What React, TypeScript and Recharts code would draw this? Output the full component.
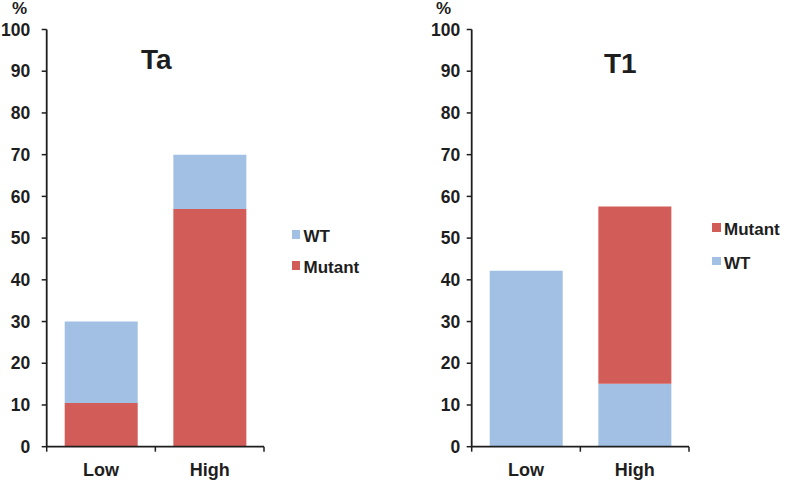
import React from 'react';
import { BarChart, Bar, XAxis, YAxis } from 'recharts';

const categories = ['Low', 'High'];
const yTicks = [0, 10, 20, 30, 40, 50, 60, 70, 80, 90, 100];
const taMutant = [10.5, 57];
const taWT = [19.5, 13];
const t1WT = [42.2, 15.1];
const t1Mutant = [0, 42.5];

const BLUE = '#a1c0e4';
const RED = '#d15c58';
const INK = '#1e1e1e';
const FONT = '"Liberation Sans", Arial, sans-serif';

const taData = categories.map((c, i) => ({ cat: c, Mutant: taMutant[i], WT: taWT[i] }));
const t1Data = categories.map((c, i) => ({ cat: c, WT: t1WT[i], Mutant: t1Mutant[i] }));

const PLOT_W = 217.3;

const makeXTick = (n: number) => (props: any) => {
  const { x, y, payload, index } = props;
  const band = PLOT_W / n;
  return (
    <g>
      <line x1={x - band / 2} x2={x - band / 2} y1={y} y2={y + 5} stroke={INK} strokeWidth={1.5} />
      {index === n - 1 && (
        <line x1={x + band / 2} x2={x + band / 2} y1={y} y2={y + 5} stroke={INK} strokeWidth={1.5} />
      )}
      <text x={x} y={y + 23.5} textAnchor="middle" dominantBaseline="central" fontSize={18} fontWeight="bold" fill={INK} fontFamily={FONT}>
        {payload.value}
      </text>
    </g>
  );
};

const XTick = makeXTick(categories.length);

type PanelProps = {
  left: number;
  width: number;
  yAxisWidth: number;
  rightMargin: number;
  tickMargin: number;
  data: any[];
  order: { key: string; color: string }[];
};

function Panel({ left, width, yAxisWidth, rightMargin, tickMargin, data, order }: PanelProps) {
  return (
    <div style={{ position: 'absolute', left, top: 0 }}>
      <BarChart
        width={width}
        height={483}
        data={data}
        margin={{ top: 29.5, right: rightMargin, bottom: 6, left: 0 }}
      >
        <XAxis
          dataKey="cat"
          height={30.3}
          tickSize={0}
          tickMargin={0}
          tickLine={false}
          axisLine={{ stroke: INK, strokeWidth: 1.8 }}
          tick={<XTick />}
          interval={0}
        />
        <YAxis
          type="number"
          domain={[0, 100]}
          ticks={yTicks}
          interval={0}
          width={yAxisWidth}
          tickSize={5}
          tickMargin={tickMargin}
          axisLine={{ stroke: INK, strokeWidth: 1.8 }}
          tickLine={{ stroke: INK, strokeWidth: 1.5 }}
          tick={{ fontSize: 17.5, fontWeight: 'bold', fill: INK, fontFamily: FONT }}
        />
        {order.map((o) => (
          <Bar key={o.key} dataKey={o.key} stackId="a" fill={o.color} barSize={73} isAnimationActive={false} />
        ))}
      </BarChart>
    </div>
  );
}

const textStyle: React.CSSProperties = {
  position: 'absolute',
  fontFamily: FONT,
  fontWeight: 'bold',
  color: INK,
  lineHeight: 1,
  whiteSpace: 'nowrap',
};

function LegendItem({ x, y, color, label }: { x: number; y: number; color: string; label: string }) {
  return (
    <div style={{ position: 'absolute', left: x, top: y }}>
      <div style={{ position: 'absolute', left: 0, top: 0, width: 8.5, height: 8.5, background: color }} />
      <div style={{ ...textStyle, left: 12, top: -2, fontSize: 17 }}>{label}</div>
    </div>
  );
}

export default function App() {
  return (
    <div style={{ position: 'absolute', left: 0, top: 0, width: 787, height: 483, background: '#fff', overflow: 'hidden' }}>
      <Panel
        left={0}
        width={300}
        yAxisWidth={46.7}
        rightMargin={300 - 264}
        tickMargin={11.5}
        data={taData}
        order={[
          { key: 'Mutant', color: RED },
          { key: 'WT', color: BLUE },
        ]}
      />
      <Panel
        left={390}
        width={320}
        yAxisWidth={81.7}
        rightMargin={320 - 299}
        tickMargin={6.5}
        data={t1Data}
        order={[
          { key: 'WT', color: BLUE },
          { key: 'Mutant', color: RED },
        ]}
      />
      <div style={{ ...textStyle, left: 12, top: -0.5, fontSize: 17 }}>%</div>
      <div style={{ ...textStyle, left: 436, top: -0.5, fontSize: 17 }}>%</div>
      <div style={{ ...textStyle, left: 141, top: 46.3, fontSize: 28 }}>Ta</div>
      <div style={{ ...textStyle, left: 604, top: 49.5, fontSize: 28 }}>T1</div>
      <LegendItem x={291.5} y={230} color={BLUE} label="WT" />
      <LegendItem x={291.5} y={261} color={RED} label="Mutant" />
      <LegendItem x={712} y={223} color={RED} label="Mutant" />
      <LegendItem x={712} y={256.5} color={BLUE} label="WT" />
    </div>
  );
}
